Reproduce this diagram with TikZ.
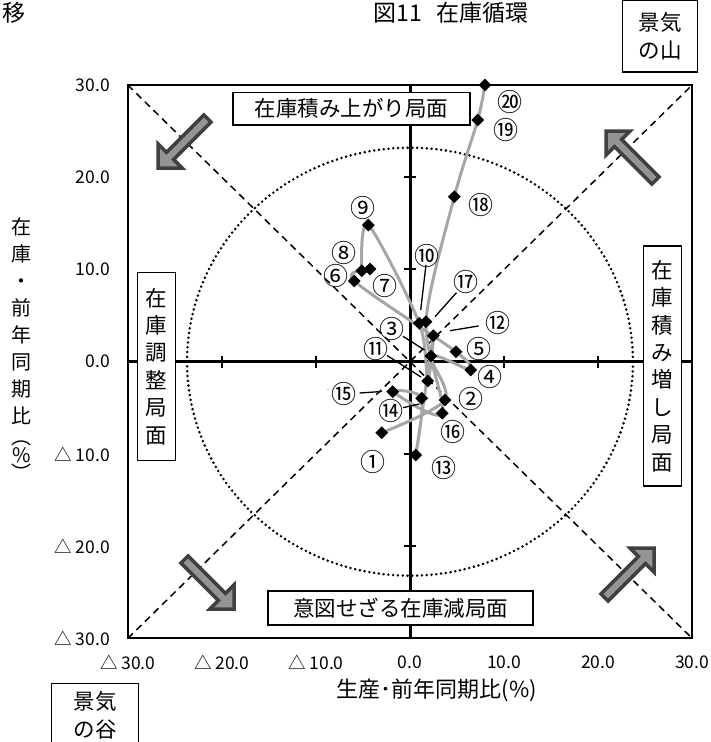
\documentclass[tikz,border=0pt]{standalone}
\usepackage{fontspec}
\setmainfont{Noto Sans CJK JP}
\usetikzlibrary{shapes.geometric}
\tikzset{datapt/.style = {diamond, fill=black, inner sep=0pt, minimum size=13pt},
         num/.style = {font=\fontsize{25}{25}\selectfont, inner sep=0pt},
         lead/.style = {line width=1.3pt},
         trend/.style = {line width=3pt, draw=black!35, line cap=round, line join=round},
         phase/.style = {draw, line width=1.5pt, fill=white, align=center, inner sep=0pt,
                         font=\fontsize{21.5}{27.4}\selectfont},
         ticklbl/.style = {font=\fontsize{17.5}{17.5}\selectfont, inner sep=0pt},
         bigarrow/.style = {draw=black!75, fill=black!42, line width=3.5pt, line join=miter}}

\begin{document}
\begin{tikzpicture}[x=1pt, y=-1pt]
    \useasboundingbox (0,0) rectangle (710,742);

    \node [font=\fontsize{23}{23}\selectfont] (title) at (451,13) {図11\hspace{0.6em}在庫循環};
    \node [font=\fontsize{23}{23}\selectfont] (cut)   at (14,13) {移};

    % chart area, data units
    \begin{scope}[shift={(410,361.7)}, x=9.407pt, y=9.223pt]
        \draw [line width=2pt] (-30,-30) rectangle (30,30);
        \draw [line width=1.5pt, dash pattern=on 7pt off 5pt] (-30,-30) -- (30,30);
        \draw [line width=1.5pt, dash pattern=on 7pt off 5pt] (-30,30) -- (30,-30);
        \draw [line width=2.8pt, dash pattern=on 0pt off 4.8pt, line cap=round]
              (0,0) ellipse [x radius=23.7, y radius=23.2];

        \draw [line width=3pt] (-30,0) -- (30,0);
        \draw [line width=3pt] (0,-30) -- (0,30);
        \foreach \v in {-30,-20,-10,10,20,30} {
            \draw [line width=2pt] (\v,-0.65) -- (\v,0.65);
            \draw [line width=2pt] (-0.65,\v) -- (0.65,\v);
        }

        \foreach \v/\t [count=\i] in {30/30.0, 20/20.0, 10/10.0, 0/0.0, -10/△ 10.0, -20/△ 20.0, -30/△ 30.0}
            \node [ticklbl, anchor=east] (yt\i) at (-31.9,\v) {\t};
        \foreach \v/\t [count=\i] in {-30/△ 30.0, -20/△ 20.0, -10/△ 10.0, 0/0.0, 10/10.0, 20/20.0, 30/30.0}
            \node [ticklbl] (xt\i) at (\v,-32.6) {\t};

        \foreach \px/\py [count=\i] in {-3.0/-7.7, 3.72/-4.15, 2.23/0.62, 6.45/-0.9, 4.89/1.08,
                                        -5.92/8.75, -4.25/10.05, -5.13/9.87, -4.43/14.82, 0.99/4.16,
                                        1.88/-2.09, 2.48/2.82, 0.61/-10.12, 1.24/-3.97, -1.84/-3.25,
                                        3.43/-5.59, 1.70/4.34, 4.71/17.89, 7.2/26.21, 7.97/30.0}
            \coordinate (c\i) at (\px,\py);
    \end{scope}

    % arrows of the cycle
    \foreach \tx/\ty/\ang in {158/168/225, 606/131/135, 234/609/-45, 654/548/45}
        \draw [bigarrow, shift={(\tx,\ty)}, rotate=\ang]
              (0,0) -- (-17,-17) -- (-17,-5) -- (-70,-5) -- (-70,5) -- (-17,5) -- (-17,17) -- cycle;

    \draw [trend] plot [smooth, tension=0.5] coordinates {(c1) (c2) (c3) (c4) (c5) (c6) (c7) (c8) (c9) (c10)
                   (c11) (c12) (c13) (c14) (c15) (c16) (c17) (c18) (c19) (c20)};
    \foreach \i in {1,...,20}
        \node [datapt] (p\i) at (c\i) {};

    \node [num] (l1)  at (373.3,461.7) {①};
    \node [num] (l2)  at (470.7,399)   {②};
    \node [num] (l3)  at (392,329.3)   {③};
    \node [num] (l4)  at (490,376.7)   {④};
    \node [num] (l5)  at (479,349.3)   {⑤};
    \node [num] (l6)  at (336,276)     {⑥};
    \node [num] (l7)  at (385,285.7)   {⑦};
    \node [num] (l8)  at (344,253)     {⑧};
    \node [num] (l9)  at (363.3,208.3) {⑨};
    \node [num] (l10) at (427,256)     {⑩};
    \node [num] (l11) at (376,348.5)   {⑪};
    \node [num] (l12) at (498.3,322.7) {⑫};
    \node [num] (l13) at (444,468.3)   {⑬};
    \node [num] (l14) at (390.5,410.5) {⑭};
    \node [num] (l15) at (344,394)     {⑮};
    \node [num] (l16) at (452.7,432)   {⑯};
    \node [num] (l17) at (465.7,282.3) {⑰};
    \node [num] (l18) at (481,205)     {⑱};
    \node [num] (l19) at (506,130)     {⑲};
    \node [num] (l20) at (510,101.7)   {⑳};
    \node [font=\fontsize{8}{8}\selectfont, text=black!45, inner sep=0pt] (dash15) at (328,391) {-};

    \coordinate (k3)  at (424.5,350);
    \coordinate (k10) at (420.7,310);
    \coordinate (k11) at (421,377);
    \coordinate (k12) at (450,330.7);
    \coordinate (k14) at (419.5,404);
    \coordinate (k15) at (382,391.5);
    \coordinate (k17) at (435,316.7);
    \draw [lead, shorten <=-2pt] (l3) -- (k3);
    \draw [lead, shorten <=-3pt] (l10) -- (k10);
    \draw [lead, shorten <=-2pt] (l11) -- (k11);
    \draw [lead, shorten <=7pt] (l12) -- (k12);
    \draw [lead] (l14) -- (k14);
    \draw [lead, shorten <=3pt] (l15) -- (k15);
    \draw [lead, shorten <=-2pt] (l17) -- (k17);

    % phases
    \node [phase, minimum width=237pt, minimum height=32.5pt] (upPhase)   at (351.5,108.8) {在庫積み上がり局面};
    \node [phase, minimum width=38.4pt, minimum height=240pt] (addPhase)  at (662.5,366)   {在\\庫\\積\\み\\増\\し\\局\\面};
    \node [phase, minimum width=38.4pt, minimum height=188.4pt] (adjPhase) at (156.5,366.5) {在\\庫\\調\\整\\局\\面};
    \node [phase, minimum width=265pt, minimum height=34pt] (downPhase)   at (400.5,608)   {意図せざる在庫減局面};
    \node [phase, minimum width=75pt, minimum height=72pt] (peak)         at (660,36)      {景気\\の山};
    \node [phase, minimum width=86.6pt, minimum height=64pt, anchor=north] (trough) at (95,682.7) {景気\\の谷};

    \node [font=\fontsize{20}{27}\selectfont, align=center, inner sep=0pt] (ytitle) at (22,349)
          {在\\庫\\・\\前\\年\\同\\期\\比\\[-6pt]︵\\[-9pt]\%\\[-9pt]︶};
    \node [font=\fontsize{22}{22}\selectfont] (xtitle) at (437,690) {生産･前年同期比(\%)};
\end{tikzpicture}
\end{document}
